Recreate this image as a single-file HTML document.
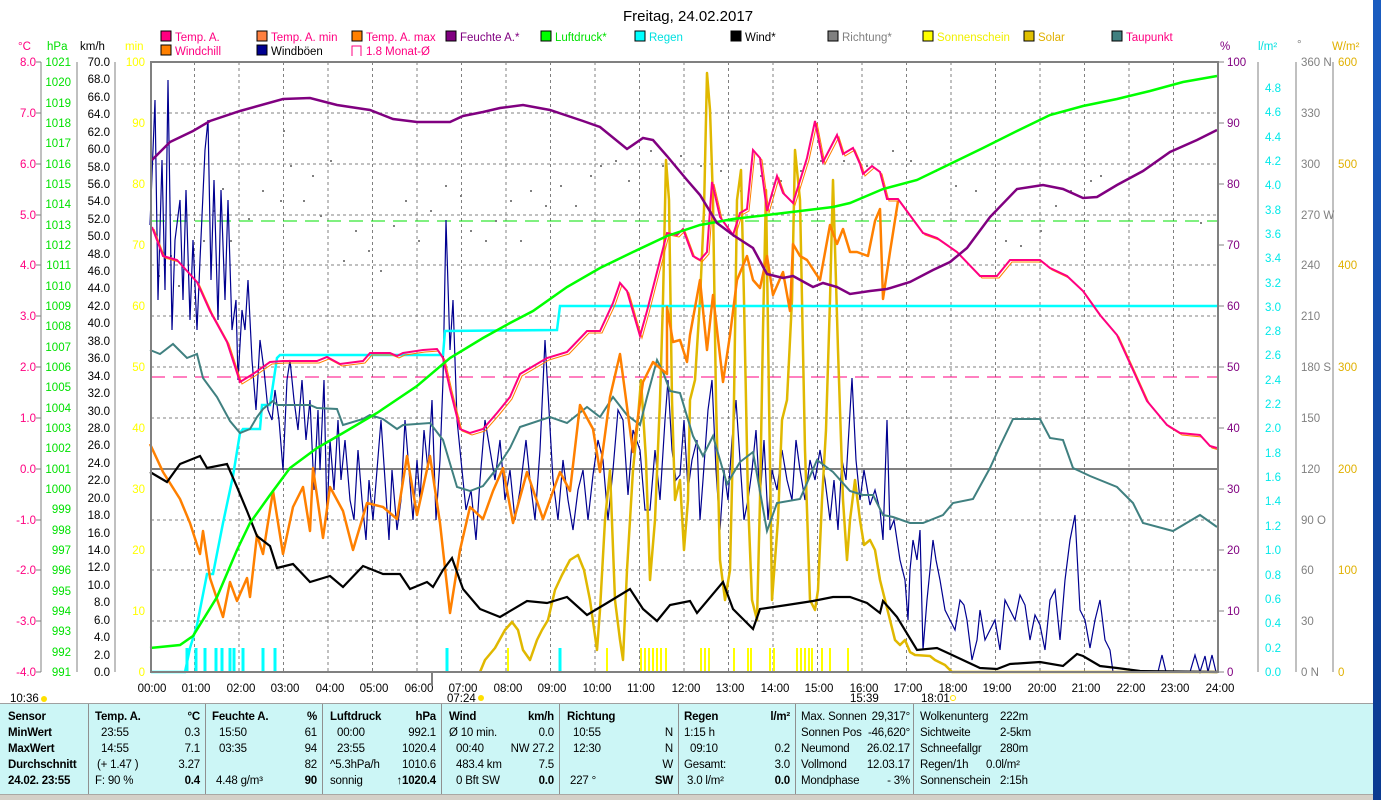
<!DOCTYPE html>
<html><head><meta charset="utf-8"><style>
html,body{margin:0;padding:0;background:#fff;width:1381px;height:800px;overflow:hidden;font-family:"Liberation Sans",sans-serif}
svg{position:absolute;left:0;top:0}
.p{position:absolute;left:0;top:703px;width:1373px;height:90px;background:#ccf6f6;border-top:1px solid #a0a0a0}
.c{position:absolute;top:0;height:90px;border-left:1px solid #909090;font-size:11.5px;letter-spacing:-0.2px}
.r{position:absolute;white-space:nowrap}
.b{font-weight:bold}
</style></head><body>
<svg width="1381" height="800" font-family="Liberation Sans, sans-serif" font-size="11.5">
<text x="688" y="21" font-size="15" text-anchor="middle">Freitag, 24.02.2017</text>
<g font-size="11.5">
<rect x="161" y="31" width="10" height="10" fill="#ff0080" stroke="#000"/><text x="175" y="41" fill="#ff0080">Temp. A.</text>
<rect x="257" y="31" width="10" height="10" fill="#ff8040" stroke="#000"/><text x="271" y="41" fill="#ff0080">Temp. A. min</text>
<rect x="352" y="31" width="10" height="10" fill="#ff8000" stroke="#000"/><text x="366" y="41" fill="#ff0080">Temp. A. max</text>
<rect x="446" y="31" width="10" height="10" fill="#800080" stroke="#000"/><text x="460" y="41" fill="#800080">Feuchte A.*</text>
<rect x="541" y="31" width="10" height="10" fill="#00ff00" stroke="#000"/><text x="555" y="41" fill="#00e000">Luftdruck*</text>
<rect x="635" y="31" width="10" height="10" fill="#00ffff" stroke="#000"/><text x="649" y="41" fill="#00e0e0">Regen</text>
<rect x="731" y="31" width="10" height="10" fill="#000" stroke="#000"/><text x="745" y="41" fill="#000">Wind*</text>
<rect x="828" y="31" width="10" height="10" fill="#808080" stroke="#000"/><text x="842" y="41" fill="#808080">Richtung*</text>
<rect x="923" y="31" width="10" height="10" fill="#ffff00" stroke="#000"/><text x="937" y="41" fill="#f0f000">Sonnenschein</text>
<rect x="1024" y="31" width="10" height="10" fill="#e0c000" stroke="#000"/><text x="1038" y="41" fill="#e0b000">Solar</text>
<rect x="1112" y="31" width="10" height="10" fill="#408080" stroke="#000"/><text x="1126" y="41" fill="#ff0080">Taupunkt</text>
<rect x="161" y="45" width="10" height="10" fill="#ff8000" stroke="#000"/><text x="175" y="55" fill="#ff0080">Windchill</text>
<rect x="257" y="45" width="10" height="10" fill="#000090" stroke="#000"/><text x="271" y="55" fill="#000">Windböen</text>
<path d="M352 56V46H361V56" fill="none" stroke="#ff0080"/><text x="366" y="55" fill="#ff0080">1.8 Monat-Ø</text>
</g>
<text x="18" y="50" fill="#ff0080">°C</text><text x="47" y="50" fill="#00e000">hPa</text><text x="80" y="50" fill="#000">km/h</text><text x="125" y="50" fill="#ffff00">min</text>
<text x="1220" y="50" fill="#800080">%</text><text x="1258" y="50" fill="#00e0e0">l/m²</text><text x="1297" y="48" fill="#808080">°</text><text x="1332" y="50" fill="#e0b000">W/m²</text>
<g stroke="#808080" stroke-dasharray="3,3" stroke-width="1">
<path d="M194.5 62V672M239 62V672M283.5 62V672M328 62V672M372.5 62V672M417 62V672M461.5 62V672M506 62V672M550.5 62V672M595 62V672M639.5 62V672M684 62V672M728.5 62V672M773 62V672M817.5 62V672M862 62V672M906.5 62V672M951 62V672M995.5 62V672M1040 62V672M1084.5 62V672M1129 62V672M1173.5 62V672"/>
<path d="M151 113H1218M151 164H1218M151 215H1218M151 265H1218M151 316H1218M151 367H1218M151 418H1218M151 520H1218M151 570H1218M151 621H1218"/>
</g>
<path d="M151 469H1218" stroke="#808080" stroke-width="2"/>
<path d="M151 221H1218" stroke="#00e000" stroke-dasharray="14,8"/>
<path d="M151 377H1218" stroke="#ff0080" stroke-dasharray="14,8"/>
<g stroke="#808080"><path d="M41 62V672M77 62V672M115 62V672"/></g>
<g fill="#ff0080" text-anchor="end">
<text x="36" y="66">8.0</text><text x="36" y="117">7.0</text><text x="36" y="168">6.0</text><text x="36" y="219">5.0</text><text x="36" y="269">4.0</text><text x="36" y="320">3.0</text><text x="36" y="371">2.0</text><text x="36" y="422">1.0</text><text x="36" y="473">0.0</text><text x="36" y="524">-1.0</text><text x="36" y="574">-2.0</text><text x="36" y="625">-3.0</text><text x="36" y="676">-4.0</text>
</g>
<g stroke="#808080"><path d="M36 62H41M36 113H41M36 164H41M36 215H41M36 265H41M36 316H41M36 367H41M36 418H41M36 469H41M36 520H41M36 570H41M36 621H41M36 672H41"/></g>
<g fill="#00e000" text-anchor="end">
<text x="71" y="66">1021</text><text x="71" y="86">1020</text><text x="71" y="107">1019</text><text x="71" y="127">1018</text><text x="71" y="147">1017</text><text x="71" y="168">1016</text><text x="71" y="188">1015</text><text x="71" y="208">1014</text><text x="71" y="229">1013</text><text x="71" y="249">1012</text><text x="71" y="269">1011</text><text x="71" y="290">1010</text><text x="71" y="310">1009</text><text x="71" y="330">1008</text><text x="71" y="351">1007</text><text x="71" y="371">1006</text><text x="71" y="391">1005</text><text x="71" y="412">1004</text><text x="71" y="432">1003</text><text x="71" y="452">1002</text><text x="71" y="473">1001</text><text x="71" y="493">1000</text><text x="71" y="513">999</text><text x="71" y="534">998</text><text x="71" y="554">997</text><text x="71" y="574">996</text><text x="71" y="595">995</text><text x="71" y="615">994</text><text x="71" y="635">993</text><text x="71" y="656">992</text><text x="71" y="676">991</text>
</g>
<g fill="#000" text-anchor="end">
<text x="110" y="66">70.0</text><text x="110" y="83">68.0</text><text x="110" y="101">66.0</text><text x="110" y="118">64.0</text><text x="110" y="136">62.0</text><text x="110" y="153">60.0</text><text x="110" y="171">58.0</text><text x="110" y="188">56.0</text><text x="110" y="205">54.0</text><text x="110" y="223">52.0</text><text x="110" y="240">50.0</text><text x="110" y="258">48.0</text><text x="110" y="275">46.0</text><text x="110" y="292">44.0</text><text x="110" y="310">42.0</text><text x="110" y="327">40.0</text><text x="110" y="345">38.0</text><text x="110" y="362">36.0</text><text x="110" y="380">34.0</text><text x="110" y="397">32.0</text><text x="110" y="415">30.0</text><text x="110" y="432">28.0</text><text x="110" y="449">26.0</text><text x="110" y="467">24.0</text><text x="110" y="484">22.0</text><text x="110" y="502">20.0</text><text x="110" y="519">18.0</text><text x="110" y="537">16.0</text><text x="110" y="554">14.0</text><text x="110" y="571">12.0</text><text x="110" y="589">10.0</text><text x="110" y="606">8.0</text><text x="110" y="624">6.0</text><text x="110" y="641">4.0</text><text x="110" y="659">2.0</text><text x="110" y="676">0.0</text>
</g>
<g fill="#ffff00" text-anchor="end">
<text x="145" y="66">100</text><text x="145" y="127">90</text><text x="145" y="188">80</text><text x="145" y="249">70</text><text x="145" y="310">60</text><text x="145" y="371">50</text><text x="145" y="432">40</text><text x="145" y="493">30</text><text x="145" y="554">20</text><text x="145" y="615">10</text><text x="145" y="676">0</text>
</g>
<g stroke="#808080"><path d="M1258 62V672M1296 62V672M1333 62V672"/>
<path d="M1218 62H1224M1218 123H1224M1218 184H1224M1218 245H1224M1218 306H1224M1218 367H1224M1218 428H1224M1218 489H1224M1218 550H1224M1218 611H1224M1218 672H1224"/></g>
<g fill="#800080">
<text x="1227" y="66">100</text><text x="1227" y="127">90</text><text x="1227" y="188">80</text><text x="1227" y="249">70</text><text x="1227" y="310">60</text><text x="1227" y="371">50</text><text x="1227" y="432">40</text><text x="1227" y="493">30</text><text x="1227" y="554">20</text><text x="1227" y="615">10</text><text x="1227" y="676">0</text>
</g>
<g fill="#00e8e8">
<text x="1265" y="92">4.8</text><text x="1265" y="116">4.6</text><text x="1265" y="141">4.4</text><text x="1265" y="165">4.2</text><text x="1265" y="189">4.0</text><text x="1265" y="214">3.8</text><text x="1265" y="238">3.6</text><text x="1265" y="262">3.4</text><text x="1265" y="287">3.2</text><text x="1265" y="311">3.0</text><text x="1265" y="335">2.8</text><text x="1265" y="359">2.6</text><text x="1265" y="384">2.4</text><text x="1265" y="408">2.2</text><text x="1265" y="432">2.0</text><text x="1265" y="457">1.8</text><text x="1265" y="481">1.6</text><text x="1265" y="505">1.4</text><text x="1265" y="530">1.2</text><text x="1265" y="554">1.0</text><text x="1265" y="579">0.8</text><text x="1265" y="603">0.6</text><text x="1265" y="627">0.4</text><text x="1265" y="652">0.2</text><text x="1265" y="676">0.0</text>
</g>
<g fill="#808080">
<text x="1301" y="66">360 N</text><text x="1301" y="117">330</text><text x="1301" y="168">300</text><text x="1301" y="219">270 W</text><text x="1301" y="269">240</text><text x="1301" y="320">210</text><text x="1301" y="371">180 S</text><text x="1301" y="422">150</text><text x="1301" y="473">120</text><text x="1301" y="524">90  O</text><text x="1301" y="574">60</text><text x="1301" y="625">30</text><text x="1301" y="676">0  N</text>
</g>
<g fill="#e0b000">
<text x="1338" y="66">600</text><text x="1338" y="168">500</text><text x="1338" y="269">400</text><text x="1338" y="371">300</text><text x="1338" y="473">200</text><text x="1338" y="574">100</text><text x="1338" y="676">0</text>
</g>
<g text-anchor="middle" fill="#000">
<text x="152" y="692">00:00</text><text x="196" y="692">01:00</text><text x="241" y="692">02:00</text><text x="285" y="692">03:00</text><text x="330" y="692">04:00</text><text x="374" y="692">05:00</text><text x="419" y="692">06:00</text><text x="463" y="692">07:00</text><text x="508" y="692">08:00</text><text x="552" y="692">09:00</text><text x="597" y="692">10:00</text><text x="641" y="692">11:00</text><text x="686" y="692">12:00</text><text x="730" y="692">13:00</text><text x="775" y="692">14:00</text><text x="819" y="692">15:00</text><text x="864" y="692">16:00</text><text x="908" y="692">17:00</text><text x="953" y="692">18:00</text><text x="997" y="692">19:00</text><text x="1042" y="692">20:00</text><text x="1086" y="692">21:00</text><text x="1131" y="692">22:00</text><text x="1175" y="692">23:00</text><text x="1220" y="692">24:00</text>
</g>
<text x="10" y="702">10:36</text><circle cx="44" cy="699" r="3" fill="#ffe000"/>
<text x="447" y="702">07:24</text><circle cx="481" cy="698" r="3" fill="#ffe000"/>
<text x="850" y="702">15:39</text><text x="921" y="702">18:01</text><circle cx="953" cy="698" r="2.5" fill="none" stroke="#ffe000"/>
<g fill="#808080">
<rect x="158" y="275" width="2" height="2"/><rect x="170" y="255" width="2" height="2"/><rect x="178" y="285" width="2" height="2"/><rect x="203" y="240" width="2" height="2"/><rect x="213" y="210" width="2" height="2"/><rect x="222" y="188" width="2" height="2"/><rect x="230" y="240" width="2" height="2"/><rect x="248" y="218" width="2" height="2"/><rect x="262" y="190" width="2" height="2"/><rect x="280" y="200" width="2" height="2"/><rect x="283" y="130" width="2" height="2"/><rect x="290" y="165" width="2" height="2"/><rect x="303" y="200" width="2" height="2"/><rect x="312" y="175" width="2" height="2"/><rect x="320" y="215" width="2" height="2"/><rect x="330" y="160" width="2" height="2"/><rect x="343" y="260" width="2" height="2"/><rect x="355" y="230" width="2" height="2"/><rect x="368" y="250" width="2" height="2"/><rect x="380" y="270" width="2" height="2"/><rect x="393" y="225" width="2" height="2"/><rect x="405" y="200" width="2" height="2"/><rect x="418" y="240" width="2" height="2"/><rect x="430" y="210" width="2" height="2"/><rect x="445" y="185" width="2" height="2"/><rect x="460" y="195" width="2" height="2"/><rect x="470" y="230" width="2" height="2"/><rect x="485" y="240" width="2" height="2"/><rect x="495" y="220" width="2" height="2"/><rect x="510" y="200" width="2" height="2"/><rect x="520" y="240" width="2" height="2"/><rect x="530" y="190" width="2" height="2"/><rect x="545" y="205" width="2" height="2"/><rect x="560" y="185" width="2" height="2"/><rect x="575" y="205" width="2" height="2"/><rect x="590" y="175" width="2" height="2"/><rect x="600" y="165" width="2" height="2"/><rect x="615" y="160" width="2" height="2"/><rect x="628" y="180" width="2" height="2"/><rect x="650" y="150" width="2" height="2"/><rect x="662" y="165" width="2" height="2"/><rect x="680" y="155" width="2" height="2"/><rect x="700" y="165" width="2" height="2"/><rect x="720" y="170" width="2" height="2"/><rect x="740" y="190" width="2" height="2"/><rect x="760" y="175" width="2" height="2"/><rect x="780" y="180" width="2" height="2"/><rect x="800" y="170" width="2" height="2"/><rect x="820" y="160" width="2" height="2"/><rect x="843" y="160" width="2" height="2"/><rect x="866" y="165" width="2" height="2"/><rect x="892" y="150" width="2" height="2"/><rect x="910" y="160" width="2" height="2"/><rect x="935" y="170" width="2" height="2"/><rect x="955" y="185" width="2" height="2"/><rect x="975" y="190" width="2" height="2"/><rect x="990" y="215" width="2" height="2"/><rect x="1005" y="240" width="2" height="2"/><rect x="1020" y="245" width="2" height="2"/><rect x="1040" y="230" width="2" height="2"/><rect x="1055" y="205" width="2" height="2"/><rect x="1070" y="190" width="2" height="2"/><rect x="1090" y="180" width="2" height="2"/><rect x="1100" y="175" width="2" height="2"/><rect x="1200" y="222" width="2" height="2"/>
</g>
<g stroke="#00ffff" stroke-width="3">
<path d="M187 672V648M196 672V648M205 672V648M216 672V648M222 672V648M230 672V648M234 672V648M243 672V648M263 672V648M275 672V648M447 672V648M560 672V648"/>
</g>
<g stroke="#ffff00" stroke-width="2">
<path d="M508 672V648M607 672V648M641 672V648M645 672V648M649 672V648M653 672V648M657 672V648M661 672V648M666 672V648M701 672V648M705 672V648M709 672V648M734 672V648M748 672V648M751 672V648M770 672V648M774 672V648M797 672V648M801 672V648M805 672V648M809 672V648M812 672V648M822 672V648M830 672V648M848 672V648"/>
</g>
<polyline fill="none" stroke="#000090" stroke-width="1.2" points="150,225 155,100 158,300 162,160 165,290 168,80 172,330 175,240 180,200 183,300 186,190 190,320 193,240 197,330 200,260 205,150 208,120 211,280 214,180 218,320 221,190 225,300 228,200 232,330 236,300 238,380 242,310 245,330 248,280 252,360 256,410 260,340 264,370 268,410 272,420 275,390 279,420 283,470 287,380 290,360 294,400 298,430 302,380 306,440 310,400 314,490 318,410 320,470 324,380 327,520 330,440 334,490 338,420 341,480 345,440 350,500 354,520 358,450 362,500 366,540 369,480 373,520 377,470 381,420 385,480 389,540 392,470 397,530 401,500 405,420 409,470 413,520 417,460 420,500 424,430 428,470 432,400 436,520 440,460 443,380 446,220 450,350 453,300 457,420 461,460 466,510 471,490 476,540 480,480 485,420 490,450 495,480 500,440 505,500 510,470 515,520 520,490 526,440 530,480 535,520 540,450 545,340 549,410 553,480 558,520 563,460 568,500 573,530 578,490 583,470 588,520 593,475 598,440 603,460 608,520 613,470 618,410 623,420 628,495 633,430 640,450 645,510 650,510 655,450 660,500 665,420 668,380 672,450 676,480 680,475 684,420 688,490 692,460 697,440 700,520 703,480 708,410 712,380 716,470 720,530 724,470 728,500 732,440 736,400 740,460 744,520 748,500 752,470 756,430 760,500 764,440 768,520 772,470 777,490 782,450 787,480 792,500 796,440 800,470 805,500 810,460 815,480 820,450 825,480 830,520 834,480 838,530 842,460 846,480 852,378 856,460 860,500 864,470 870,505 875,490 880,510 883,540 887,420 890,530 894,520 900,560 905,580 908,620 910,570 913,540 917,560 920,530 923,650 927,600 930,570 933,540 936,560 940,580 945,610 950,620 955,630 960,600 964,605 967,620 972,660 977,640 980,610 985,640 990,630 995,620 1000,650 1005,600 1010,610 1015,620 1020,595 1025,605 1030,640 1035,615 1040,625 1045,650 1050,600 1055,590 1060,640 1065,580 1070,540 1075,515 1080,610 1085,620 1090,648 1095,620 1100,600 1105,640 1110,650 1113,672 1158,672 1162,655 1166,672 1190,672 1195,655 1200,672 1205,656 1208,672 1212,655 1216,672"/>
<polyline fill="none" stroke="#e0b800" stroke-width="2.5" stroke-linejoin="round" points="480,672 485,660 495,648 505,630 512,622 518,630 523,650 530,660 537,640 542,630 548,620 555,590 562,575 570,560 578,555 584,570 590,600 597,650 600,610 605,520 610,470 615,600 620,640 623,660 627,570 633,470 637,430 641,380 646,460 650,580 655,520 660,400 663,300 666,160 669,200 672,400 675,500 680,480 684,550 688,500 690,400 695,380 700,300 704,210 707,73 710,110 713,200 716,400 720,560 725,600 730,570 734,400 737,200 741,170 744,300 748,500 752,600 757,620 760,500 763,330 766,190 769,400 772,600 778,520 782,420 787,400 792,300 795,150 800,200 805,450 810,600 815,610 818,590 822,500 826,430 830,300 833,180 838,350 843,500 847,560 850,520 855,480 860,520 864,545 870,540 875,550 880,580 885,600 890,620 895,640 900,645 905,640 910,652 915,655 930,656 935,660 945,665 952,672 1218,672"/>
<polyline fill="none" stroke="#00ffff" stroke-width="2.5" points="151,672 185,672 190,648 197,625 207,574 213,574 223,523 233,476 240,433 243,429 260,429 262,405 270,405 277,358 280,355 443,355 445,331 557,330 560,306 1218,306"/>
<polyline fill="none" stroke="#408080" stroke-width="2" points="150,350 160,354 173,344 187,358 197,354 203,378 217,397 230,421 240,433 250,429 257,417 263,409 273,401 277,405 310,405 317,408 337,409 343,425 363,419 370,415 383,419 397,429 403,425 430,423 443,440 457,487 470,491 483,486 497,468 510,448 520,427 550,417 567,423 587,407 600,417 613,397 627,415 640,425 647,397 657,360 663,372 670,391 680,393 693,436 703,456 713,436 727,484 740,462 753,452 767,531 777,503 800,499 817,460 833,472 850,491 863,495 873,495 883,515 893,517 910,523 923,523 943,515 953,503 973,499 990,468 1000,446 1013,419 1040,419 1050,438 1063,440 1073,468 1090,476 1117,487 1133,503 1143,523 1173,531 1200,515 1217,527"/>
<polyline fill="none" stroke="#ff8000" stroke-width="2.5" stroke-linejoin="round" points="150,444 163,472 180,499 190,523 200,554 203,531 210,578 223,617 230,582 237,601 247,578 250,597 257,535 263,554 273,491 283,554 293,507 303,487 310,531 313,468 323,538 330,487 343,511 353,550 367,503 383,507 397,519 407,456 417,515 430,456 440,523 450,613 460,550 470,507 483,519 493,491 503,468 513,523 527,472 543,519 560,472 570,491 580,405 593,429 600,472 610,397 620,354 633,452 643,382 653,362 667,374 667,307 673,342 680,340 687,362 690,335 700,280 707,350 713,295 723,382 730,335 737,280 747,256 753,280 760,288 767,256 773,295 783,272 790,311 793,244 800,256 807,260 820,280 830,225 837,244 843,229 850,252 857,252 868,256 875,221 880,209 883,299 890,252 898,201"/>
<polyline fill="none" stroke="#000" stroke-width="2.2" points="150,472 167,482 180,464 200,456 207,468 227,464 237,487 247,511 257,536 270,546 277,568 293,564 310,582 330,576 343,587 363,566 383,574 400,574 410,589 427,582 433,587 443,570 452,558 463,589 480,609 500,617 527,601 547,603 567,597 587,615 607,603 630,589 643,609 657,621 670,605 690,601 697,613 723,582 733,609 753,629 760,609 787,605 813,601 833,597 850,597 867,603 880,613 883,601 897,617 917,650 937,648 950,654 980,668 997,669 1010,664 1040,662 1063,666 1077,654 1083,656 1100,666 1117,668 1140,671 1217,672"/>
<polyline fill="none" stroke="#ff8000" stroke-width="1" transform="translate(2,2)" points="152,227 163,256 177,260 197,282 210,311 227,342 240,382 253,374 270,362 283,361 317,361 327,357 340,364 363,361 370,353 390,353 397,356 403,353 423,350 437,349 443,358 450,389 460,429 470,433 483,429 497,413 510,397 520,374 547,358 567,352 587,331 600,331 613,303 620,283 627,291 640,336 647,311 657,272 667,233 677,235 683,229 693,256 700,260 707,252 712,182 720,217 733,235 740,213 747,209 753,150 760,158 767,211 777,176 783,193 793,203 807,158 815,121 823,162 837,135 843,154 853,148 860,164 863,174 872,166 880,172 887,199 898,199 923,233 937,238 957,252 980,276 997,276 1010,260 1040,260 1050,268 1067,276 1083,291 1100,315 1117,335 1133,370 1147,401 1167,425 1180,433 1200,435 1210,446 1217,448"/>
<polyline fill="none" stroke="#ff0080" stroke-width="2" points="152,227 163,256 177,260 197,282 210,311 227,342 240,382 253,374 270,362 283,361 317,361 327,357 340,364 363,361 370,353 390,353 397,356 403,353 423,350 437,349 443,358 450,389 460,429 470,433 483,429 497,413 510,397 520,374 547,358 567,352 587,331 600,331 613,303 620,283 627,291 640,336 647,311 657,272 667,233 677,235 683,229 693,256 700,260 707,252 712,182 720,217 733,235 740,213 747,209 753,150 760,158 767,211 777,176 783,193 793,203 807,158 815,121 823,162 837,135 843,154 853,148 860,164 863,174 872,166 880,172 887,199 898,199 923,233 937,238 957,252 980,276 997,276 1010,260 1040,260 1050,268 1067,276 1083,291 1100,315 1117,335 1133,370 1147,401 1167,425 1180,433 1200,435 1210,446 1217,448"/>
<polyline fill="none" stroke="#00ff00" stroke-width="2.5" points="150,648 180,645 193,636 217,597 237,550 250,523 270,495 290,468 317,448 343,433 377,413 417,386 450,358 483,338 510,323 533,311 567,287 600,268 633,252 667,236 700,225 733,219 767,215 800,211 833,207 850,203 883,189 917,180 950,164 983,148 1017,131 1050,115 1083,106 1117,99 1150,91 1183,82 1217,76"/>
<polyline fill="none" stroke="#800080" stroke-width="2.5" points="152,160 170,142 193,131 210,121 240,111 283,99 310,98 337,105 370,110 393,119 417,122 450,122 463,116 483,112 500,108 523,105 550,110 583,121 600,127 627,149 643,138 653,140 667,156 687,180 700,195 717,223 733,235 753,248 767,274 783,278 793,276 813,287 823,283 837,287 850,294 870,291 887,289 910,282 933,270 950,262 967,248 990,217 1017,189 1043,185 1063,189 1083,198 1097,197 1117,185 1143,171 1170,152 1197,140 1217,130"/>
<rect x="151" y="62" width="1067" height="610" fill="none" stroke="#808080" stroke-width="2"/>
<path d="M432 672V686" stroke="#808080" stroke-width="2"/>
<rect x="0" y="793" width="1373" height="7" fill="#d4d0c8"/>
<path d="M0 794H1373" stroke="#808080"/>
<defs><linearGradient id="g" x1="0" x2="0" y1="0" y2="1"><stop offset="0" stop-color="#1a5cc0"/><stop offset="1" stop-color="#0a3a90"/></linearGradient></defs>
<rect x="1373" y="0" width="8" height="800" fill="url(#g)"/>
</svg>
<div class="p">
<div class="c" style="left:0;width:88px;border-left:none">
<div class="r b" style="left:8px;top:7px">Sensor</div><div class="r b" style="left:8px;top:23px">MinWert</div><div class="r b" style="left:8px;top:39px">MaxWert</div><div class="r b" style="left:8px;top:55px">Durchschnitt</div><div class="r b" style="left:8px;top:71px">24.02. 23:55</div></div>
<div class="c" style="left:88px;width:117px">
<div class="r b" style="left:6px;top:7px">Temp. A.</div><div class="r b" style="right:6px;top:7px">°C</div>
<div class="r" style="left:12px;top:23px">23:55</div><div class="r" style="right:6px;top:23px">0.3</div>
<div class="r" style="left:12px;top:39px">14:55</div><div class="r" style="right:6px;top:39px">7.1</div>
<div class="r" style="left:8px;top:55px">(+ 1.47 )</div><div class="r" style="right:6px;top:55px">3.27</div>
<div class="r" style="left:6px;top:71px">F: 90 %</div><div class="r b" style="right:6px;top:71px">0.4</div></div>
<div class="c" style="left:205px;width:117px">
<div class="r b" style="left:6px;top:7px">Feuchte A.</div><div class="r b" style="right:6px;top:7px">%</div>
<div class="r" style="left:13px;top:23px">15:50</div><div class="r" style="right:6px;top:23px">61</div>
<div class="r" style="left:13px;top:39px">03:35</div><div class="r" style="right:6px;top:39px">94</div>
<div class="r" style="right:6px;top:55px">82</div>
<div class="r" style="left:10px;top:71px">4.48 g/m³</div><div class="r b" style="right:6px;top:71px">90</div></div>
<div class="c" style="left:322px;width:119px">
<div class="r b" style="left:7px;top:7px">Luftdruck</div><div class="r b" style="right:6px;top:7px">hPa</div>
<div class="r" style="left:14px;top:23px">00:00</div><div class="r" style="right:6px;top:23px">992.1</div>
<div class="r" style="left:14px;top:39px">23:55</div><div class="r" style="right:6px;top:39px">1020.4</div>
<div class="r" style="left:7px;top:55px">^5.3hPa/h</div><div class="r" style="right:6px;top:55px">1010.6</div>
<div class="r" style="left:7px;top:71px">sonnig</div><div class="r b" style="right:6px;top:71px">↑1020.4</div></div>
<div class="c" style="left:441px;width:118px">
<div class="r b" style="left:7px;top:7px">Wind</div><div class="r b" style="right:6px;top:7px">km/h</div>
<div class="r" style="left:7px;top:23px">Ø 10 min.</div><div class="r" style="right:6px;top:23px">0.0</div>
<div class="r" style="left:14px;top:39px">00:40</div><div class="r" style="right:6px;top:39px">NW 27.2</div>
<div class="r" style="left:14px;top:55px">483.4 km</div><div class="r" style="right:6px;top:55px">7.5</div>
<div class="r" style="left:14px;top:71px">0 Bft SW</div><div class="r b" style="right:6px;top:71px">0.0</div></div>
<div class="c" style="left:559px;width:119px">
<div class="r b" style="left:7px;top:7px">Richtung</div>
<div class="r" style="left:13px;top:23px">10:55</div><div class="r" style="right:6px;top:23px">N</div>
<div class="r" style="left:13px;top:39px">12:30</div><div class="r" style="right:6px;top:39px">N</div>
<div class="r" style="right:6px;top:55px">W</div>
<div class="r" style="left:10px;top:71px">227 °</div><div class="r b" style="right:6px;top:71px">SW</div></div>
<div class="c" style="left:678px;width:117px">
<div class="r b" style="left:5px;top:7px">Regen</div><div class="r b" style="right:6px;top:7px">l/m²</div>
<div class="r" style="left:5px;top:23px">1:15 h</div>
<div class="r" style="left:11px;top:39px">09:10</div><div class="r" style="right:6px;top:39px">0.2</div>
<div class="r" style="left:5px;top:55px">Gesamt:</div><div class="r" style="right:6px;top:55px">3.0</div>
<div class="r" style="left:8px;top:71px">3.0 l/m²</div><div class="r b" style="right:6px;top:71px">0.0</div></div>
<div class="c" style="left:795px;width:118px">
<div class="r" style="left:5px;top:7px">Max. Sonnen</div><div class="r" style="right:4px;top:7px">29,317°</div>
<div class="r" style="left:5px;top:23px">Sonnen Pos</div><div class="r" style="right:4px;top:23px">-46,620°</div>
<div class="r" style="left:5px;top:39px">Neumond</div><div class="r" style="right:4px;top:39px">26.02.17</div>
<div class="r" style="left:5px;top:55px">Vollmond</div><div class="r" style="right:4px;top:55px">12.03.17</div>
<div class="r" style="left:5px;top:71px">Mondphase</div><div class="r" style="right:4px;top:71px">- 3%</div></div>
<div class="c" style="left:913px;width:200px">
<div class="r" style="left:6px;top:7px">Wolkenunterg</div><div class="r" style="left:86px;top:7px">222m</div>
<div class="r" style="left:6px;top:23px">Sichtweite</div><div class="r" style="left:86px;top:23px">2-5km</div>
<div class="r" style="left:6px;top:39px">Schneefallgr</div><div class="r" style="left:86px;top:39px">280m</div>
<div class="r" style="left:6px;top:55px">Regen/1h</div><div class="r" style="left:72px;top:55px">0.0l/m²</div>
<div class="r" style="left:6px;top:71px">Sonnenschein</div><div class="r" style="left:86px;top:71px">2:15h</div></div>
</div>
</body></html>
